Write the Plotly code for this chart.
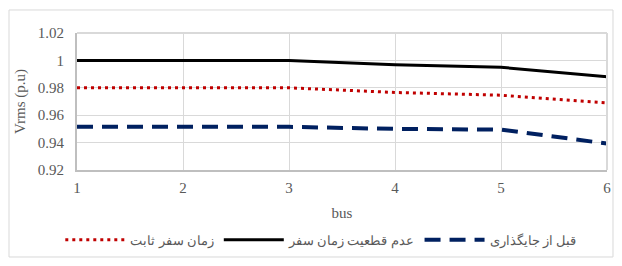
import plotly.graph_objects as go

bus = [1, 2, 3, 4, 5, 6]
fixed_time = [0.980, 0.980, 0.980, 0.9766, 0.9746, 0.969]
uncertain_time = [1.000, 1.000, 1.000, 0.9969, 0.995, 0.988]
before_placement = [0.9515, 0.9515, 0.9515, 0.950, 0.9495, 0.9393]

names = ["زمان سفر ثابت", "عدم قطعیت زمان سفر", "قبل از جایگذاری"]
y_ticks = [0.92, 0.94, 0.96, 0.98, 1.0, 1.02]
y_tick_text = ["0.92", "0.94", "0.96", "0.98", "1", "1.02"]

font_fam = "Liberation Serif"
grey = "#595959"

fig = go.Figure()
fig.add_trace(go.Scatter(x=bus, y=fixed_time, mode="lines", name=names[0],
                         line=dict(color="#c00000", width=3, dash="3px,4px")))
fig.add_trace(go.Scatter(x=bus, y=uncertain_time, mode="lines", name=names[1],
                         line=dict(color="#000000", width=3)))
fig.add_trace(go.Scatter(x=bus, y=before_placement, mode="lines", name=names[2],
                         line=dict(color="#002060", width=4, dash="16px,9px")))

fig.update_layout(
    width=606, height=250,
    margin=dict(l=69, r=7, t=25, b=88, autoexpand=False),
    paper_bgcolor="white", plot_bgcolor="white",
    font=dict(family=font_fam, color=grey, size=13),
    showlegend=True,
    legend=dict(orientation="h", x=0.46, xanchor="center", y=-0.51, yanchor="middle",
                font=dict(size=13, family=font_fam, color=grey), itemwidth=60,
                traceorder="normal"),
    xaxis=dict(range=[1, 6], tickvals=bus, showgrid=True, gridcolor="#d9d9d9", gridwidth=1,
               zeroline=False, showline=True, linecolor="#bfbfbf", linewidth=2,
               mirror=False, ticks="", tickfont=dict(size=15), ticklabelstandoff=3,
               automargin=False,
               title=dict(text="bus", font=dict(size=15), standoff=12)),
    yaxis=dict(range=[0.92, 1.02], tickvals=y_ticks, ticktext=y_tick_text, showgrid=True,
               gridcolor="#d9d9d9", gridwidth=1, zeroline=False, showline=True,
               linecolor="#bfbfbf", linewidth=2, ticks="", tickfont=dict(size=15),
               ticklabelstandoff=8, automargin=False,
               title=dict(text="Vrms (p.u)", font=dict(size=15), standoff=9)),
    shapes=[
        dict(type="rect", xref="paper", yref="paper", x0=-0.1283, x1=1.0113, y0=-0.635, y1=1.168,
             line=dict(color="#d9d9d9", width=1), fillcolor="rgba(0,0,0,0)", layer="below"),
        dict(type="line", xref="paper", yref="paper", x0=1, x1=1, y0=0, y1=1,
             line=dict(color="#d9d9d9", width=2)),
        dict(type="line", xref="paper", yref="paper", x0=0, x1=1, y0=1, y1=1,
             line=dict(color="#d9d9d9", width=2)),
    ],
)

fig.write_html("out.html")
